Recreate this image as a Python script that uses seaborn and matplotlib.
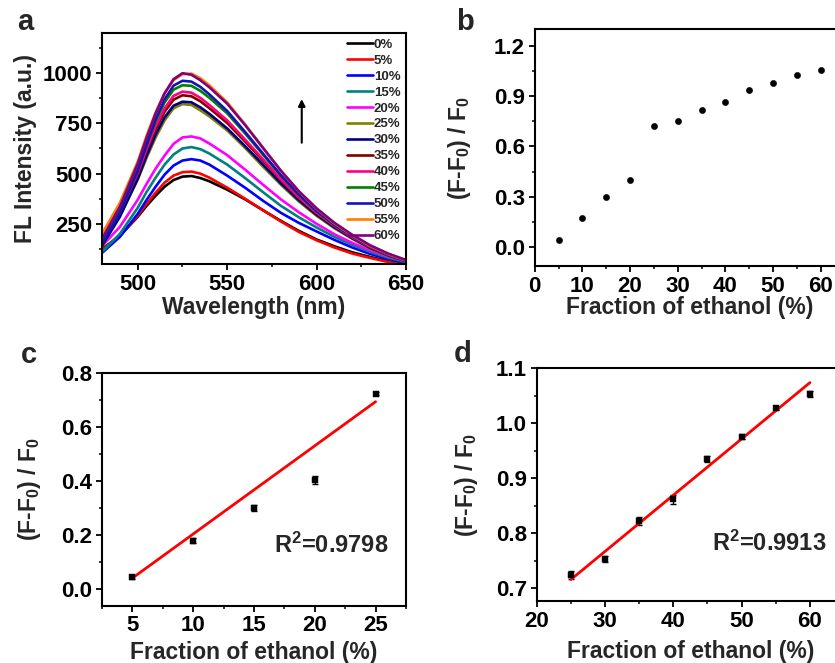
import numpy as np
import pandas as pd
import matplotlib
matplotlib.use("Agg")
import matplotlib.pyplot as plt
from matplotlib.ticker import MultipleLocator
import seaborn as sns

# ---------------- data ----------------
wavelength = [480, 490, 500, 505, 510, 515, 520, 525, 530, 535, 540, 550,
              560, 570, 580, 590, 600, 610, 620, 630, 640, 650]
frac_labels = ["0%", "5%", "10%", "15%", "20%", "25%", "30%", "35%",
               "40%", "45%", "50%", "55%", "60%"]
fl_0 = [125, 190, 285, 340, 390, 435, 468, 485, 488, 478, 462, 420, 372, 318, 265, 215, 172, 138, 108, 85, 65, 50]
fl_5 = [120, 190, 290, 350, 405, 455, 490, 507, 510, 500, 480, 430, 375, 318, 262, 210, 168, 132, 102, 80, 60, 45]
fl_10 = [105, 185, 300, 370, 435, 495, 540, 565, 572, 565, 545, 490, 430, 365, 305, 255, 212, 170, 132, 100, 75, 55]
fl_15 = [110, 200, 330, 410, 480, 545, 595, 625, 632, 622, 600, 545, 478, 408, 340, 283, 232, 185, 145, 110, 82, 60]
fl_20 = [140, 235, 370, 450, 525, 590, 648, 680, 685, 675, 650, 592, 520, 445, 372, 308, 250, 198, 155, 118, 88, 62]
fl_25 = [150, 290, 470, 580, 680, 765, 825, 846, 842, 815, 785, 715, 628, 535, 445, 362, 290, 228, 175, 128, 92, 62]
fl_30 = [140, 285, 475, 590, 695, 780, 838, 858, 855, 830, 798, 725, 637, 545, 452, 368, 295, 232, 178, 130, 93, 63]
fl_35 = [165, 310, 500, 615, 720, 808, 868, 890, 885, 860, 826, 752, 660, 565, 468, 380, 303, 238, 182, 134, 96, 66]
fl_40 = [160, 310, 505, 625, 735, 825, 887, 908, 903, 877, 842, 765, 670, 572, 472, 383, 305, 240, 183, 135, 96, 66]
fl_45 = [170, 320, 520, 645, 760, 855, 918, 940, 937, 912, 878, 800, 700, 595, 490, 395, 313, 245, 187, 138, 98, 67]
fl_50 = [150, 305, 515, 645, 770, 870, 938, 962, 958, 932, 895, 812, 708, 600, 493, 397, 314, 245, 187, 138, 98, 67]
fl_55 = [200, 355, 560, 690, 805, 900, 965, 995, 998, 975, 940, 855, 745, 630, 515, 412, 325, 252, 192, 140, 100, 68]
fl_60 = [175, 335, 550, 680, 800, 900, 970, 1000, 992, 965, 930, 848, 742, 628, 515, 413, 327, 255, 195, 143, 102, 70]
curve_colors = ["#000000", "#FF0000", "#0000FF", "#008080", "#FF00FF", "#808000",
                "#000080", "#800000", "#FF0080", "#008000", "#1414B4", "#FF8000", "#800080"]

fraction_b = [5, 10, 15, 20, 25, 30, 35, 40, 45, 50, 55, 60]
ratio_b = [0.044, 0.175, 0.297, 0.402, 0.720, 0.752, 0.820, 0.864, 0.935, 0.977, 1.027, 1.053]

fraction_c = [5, 10, 15, 20, 25]
ratio_c = [0.045, 0.180, 0.300, 0.405, 0.722]
err_c = [0.006, 0.010, 0.010, 0.015, 0.006]
fit_c_x = [5, 25]
fit_c_y = [0.042, 0.693]
r2_c = "R$^2$=0.9798"

fraction_d = [25, 30, 35, 40, 45, 50, 55, 60]
ratio_d = [0.724, 0.753, 0.823, 0.862, 0.935, 0.976, 1.028, 1.053]
err_d = [0.007, 0.005, 0.007, 0.008, 0.006, 0.005, 0.003, 0.006]
fit_d_x = [25, 60]
fit_d_y = [0.716, 1.074]
r2_d = "R$^2$=0.9913"

# ---------------- style ----------------
sns.set_theme(style="ticks")
plt.rcParams.update({
    "font.family": ["Liberation Sans", "DejaVu Sans"],
    "font.weight": "bold",
    "axes.labelweight": "bold",
    "axes.linewidth": 1.5,
    "mathtext.fontset": "custom",
    "mathtext.rm": "Liberation Sans:bold",
    "mathtext.it": "Liberation Sans:bold",
    "mathtext.bf": "Liberation Sans:bold",
    "mathtext.sf": "Liberation Sans:bold",
    "xtick.direction": "out",
    "ytick.direction": "out",
    "xtick.major.size": 4, "ytick.major.size": 4,
    "xtick.minor.size": 2.5, "ytick.minor.size": 2.5,
    "xtick.major.width": 1.3, "ytick.major.width": 1.3,
    "xtick.minor.width": 1.1, "ytick.minor.width": 1.1,
    "xtick.color": "black", "ytick.color": "black",
    "axes.edgecolor": "black",
})

W, H = 835, 663
fig = plt.figure(figsize=(W / 100, H / 100), dpi=100)


def make_ax(l, r, t, b):
    return fig.add_axes([l / W, 1 - b / H, (r - l) / W, (b - t) / H])


TICK_FS = 16
LAB_FS = 16.5


def style_ax(ax, xlab_y, ylab_x):
    for s in ax.spines.values():
        s.set_visible(True)
        s.set_linewidth(1.5)
        s.set_color("black")
    ax.tick_params(axis="both", which="both", top=False, right=False,
                   labelsize=TICK_FS, pad=3)
    for lab in ax.get_xticklabels() + ax.get_yticklabels():
        lab.set_fontweight("bold")
    ax.xaxis.label.set_va("center")
    ax.yaxis.label.set_va("center")
    ax.xaxis.set_label_coords(0.5, xlab_y)
    ax.yaxis.set_label_coords(ylab_x, 0.5)

# ---------- panel a ----------
axa = make_ax(102, 406, 33, 264)
curves = [fl_0, fl_5, fl_10, fl_15, fl_20, fl_25, fl_30, fl_35, fl_40, fl_45, fl_50, fl_55, fl_60]
rows = []
for lab, vals in zip(frac_labels, curves):
    for w, v in zip(wavelength, vals):
        rows.append({"wl": w, "I": v, "frac": lab})
df_a = pd.DataFrame(rows)
sns.lineplot(data=df_a, x="wl", y="I", hue="frac", hue_order=frac_labels,
             palette=curve_colors, linewidth=1.9, ax=axa, legend=False)
axa.set_xlim(480, 650)
axa.set_ylim(50, 1200)
axa.xaxis.set_major_locator(MultipleLocator(50))
axa.xaxis.set_minor_locator(MultipleLocator(25))
axa.yaxis.set_minor_locator(MultipleLocator(125))
axa.set_yticks([250, 500, 750, 1000])
axa.set_xlabel("Wavelength (nm)", fontsize=LAB_FS, fontweight="bold")
axa.set_ylabel("FL Intensity (a.u.)", fontsize=LAB_FS, fontweight="bold")
style_ax(axa, -0.19, -0.253)
leg = axa.legend(handles=axa.lines[:13], labels=frac_labels, loc="upper right",
                 bbox_to_anchor=(1.0, 1.0), frameon=False, fontsize=9.5,
                 handlelength=2.0, handletextpad=0.05, labelspacing=0.285,
                 borderpad=0.3, borderaxespad=0.1)
for t in leg.get_texts():
    t.set_fontweight("bold")
axa.annotate("", xy=(591.7, 885), xytext=(591.7, 640),
             arrowprops=dict(arrowstyle="-|>", color="black", lw=1.5,
                             mutation_scale=10))

# ---------- panel b ----------
axb = make_ax(534.7, 844.7, 29, 266)
sns.scatterplot(x=fraction_b, y=ratio_b, color="black", s=20, marker="o",
                edgecolor="black", ax=axb)
axb.set_xlim(0, 65)
axb.set_ylim(-0.113, 1.3)
axb.xaxis.set_minor_locator(MultipleLocator(5))
axb.yaxis.set_minor_locator(MultipleLocator(0.15))
axb.set_xticks([0, 10, 20, 30, 40, 50, 60])
axb.set_yticks([0.0, 0.3, 0.6, 0.9, 1.2])
axb.set_xlabel("Fraction of ethanol (%)", fontsize=LAB_FS, fontweight="bold")
axb.set_ylabel("(F-F$_0$) / F$_0$", fontsize=LAB_FS, fontweight="bold")
style_ax(axb, -0.177, -0.241)

# ---------- panel c ----------
axc = make_ax(102, 406, 372.7, 605.7)
axc.errorbar(fraction_c, ratio_c, yerr=err_c, fmt="none", ecolor="black",
             elinewidth=1.0, capsize=2, capthick=1.0)
sns.scatterplot(x=fraction_c, y=ratio_c, color="black", s=14, marker="s",
                edgecolor="black", ax=axc, zorder=3)
sns.lineplot(x=fit_c_x, y=fit_c_y, color="#FF0000", linewidth=2, ax=axc)
axc.set_xlim(2.5, 27.5)
axc.set_ylim(-0.06, 0.8)
axc.xaxis.set_minor_locator(MultipleLocator(2.5))
axc.yaxis.set_minor_locator(MultipleLocator(0.1))
axc.set_xticks([5, 10, 15, 20, 25])
axc.set_yticks([0.0, 0.2, 0.4, 0.6, 0.8])
axc.set_xlabel("Fraction of ethanol (%)", fontsize=LAB_FS, fontweight="bold")
axc.set_ylabel("(F-F$_0$) / F$_0$", fontsize=LAB_FS, fontweight="bold")
axc.text(0.941, 0.26, r2_c, transform=axc.transAxes, ha="right", va="center",
         fontsize=17, fontweight="bold")
style_ax(axc, -0.199, -0.237)

# ---------- panel d ----------
axd = make_ax(536.7, 844.1, 368.3, 601)
axd.errorbar(fraction_d, ratio_d, yerr=err_d, fmt="none", ecolor="black",
             elinewidth=1.0, capsize=2, capthick=1.0)
sns.scatterplot(x=fraction_d, y=ratio_d, color="black", s=14, marker="s",
                edgecolor="black", ax=axd, zorder=3)
sns.lineplot(x=fit_d_x, y=fit_d_y, color="#FF0000", linewidth=2, ax=axd)
axd.set_xlim(20, 65)
axd.set_ylim(0.677, 1.1)
axd.xaxis.set_minor_locator(MultipleLocator(5))
axd.yaxis.set_minor_locator(MultipleLocator(0.05))
axd.set_xticks([20, 30, 40, 50, 60])
axd.set_yticks([0.7, 0.8, 0.9, 1.0, 1.1])
axd.set_xlabel("Fraction of ethanol (%)", fontsize=LAB_FS, fontweight="bold")
axd.set_ylabel("(F-F$_0$) / F$_0$", fontsize=LAB_FS, fontweight="bold")
axd.text(0.944, 0.25, r2_d, transform=axd.transAxes, ha="right", va="center",
         fontsize=17, fontweight="bold")
style_ax(axd, -0.219, -0.227)

# panel letters
for lab, x, y in [("a", 25, 22), ("b", 465, 22), ("c", 29, 355), ("d", 463, 354)]:
    fig.text(x / W, 1 - y / H, lab, fontsize=21, fontweight="bold",
             ha="center", va="center")

fig.savefig("out.png", dpi=100)
